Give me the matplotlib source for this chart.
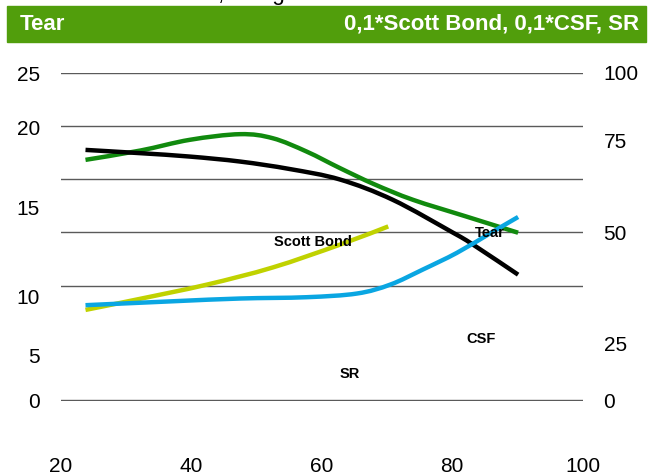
import matplotlib
matplotlib.use("Agg")
import matplotlib.pyplot as plt
from matplotlib.patches import Rectangle, PathPatch
from matplotlib.path import Path

plt.rcParams['font.family'] = ['Liberation Sans', 'DejaVu Sans']

# values (left axis units)
tear_x = [23.8, 32.2, 39.8, 47.5, 55.1, 62.8, 70.9, 80.1, 83.2, 90.1]
tear_y = [19.11, 18.86, 18.60, 18.22, 17.65, 16.85, 15.3, 12.8, 11.88, 9.59]

green_x = [23.8, 32.2, 39.8, 47.5, 52.5, 57.7, 62.8, 68.0, 74.0, 82.0, 90.1]
green_y = [18.35, 19.06, 19.88, 20.31, 20.0, 18.98, 17.72, 16.5, 15.3, 14.05, 12.79]

scott_x = [23.8, 32.2, 42.4, 52.5, 62.8, 70.2]
scott_y = [6.9, 7.75, 8.83, 10.14, 11.88, 13.27]

csf_x = [23.8, 37.2, 47.5, 57.7, 65.4, 70.5, 75.5, 80.7, 85.9, 90.1]
csf_y = [7.26, 7.56, 7.77, 7.87, 8.15, 8.83, 9.98, 11.25, 12.77, 13.99]

x_ticks = [20, 40, 60, 80, 100]
left_labels = ["25", "20", "15", "10", "5", "0"]
right_labels = ["100", "75", "50", "25", "0"]

# layout (where the labels sit on the axes)
left_pos = [24.97, 20.84, 14.72, 7.94, 3.43, -0.05]
right_pos = [100, 79.3, 51.3, 17.6, 0.3]
grid_pos = [25, 20.94, 16.88, 12.82, 8.76, 0]


def smooth_line(ax, xs, ys, color):
    # smoothed line like the spreadsheet one: cubic pieces through the points
    pts = list(zip(xs, ys))
    n = len(pts)
    verts = [pts[0]]
    codes = [Path.MOVETO]
    for i in range(n - 1):
        p0 = pts[i - 1] if i > 0 else pts[i]
        p1 = pts[i]
        p2 = pts[i + 1]
        p3 = pts[i + 2] if i + 2 < n else pts[i + 1]
        c1 = (p1[0] + (p2[0] - p0[0]) / 6, p1[1] + (p2[1] - p0[1]) / 6)
        c2 = (p2[0] - (p3[0] - p1[0]) / 6, p2[1] - (p3[1] - p1[1]) / 6)
        verts += [c1, c2, p2]
        codes += [Path.CURVE4] * 3
    ax.add_patch(PathPatch(Path(verts, codes), fill=False, edgecolor=color,
                           lw=3.2, capstyle='butt', zorder=3))


W, H = 649, 476
fig = plt.figure(figsize=(W / 100, H / 100), dpi=100)
ax = fig.add_axes([60.7 / W, (H - 401) / H, 522 / W, 328.3 / H])

for g in grid_pos:
    ax.axhline(g, color='#5a5a5a', lw=1, zorder=1)

smooth_line(ax, green_x, green_y, '#118a0e')
smooth_line(ax, tear_x, tear_y, 'black')
smooth_line(ax, scott_x, scott_y, '#c0d200')
smooth_line(ax, csf_x, csf_y, '#0aa6e2')

lab = dict(fontsize=10.5, fontweight='bold', ha='center', va='center', zorder=4)
ax.text(58.7, 12.08, "Scott Bond", **lab)
ax.text(85.7, 12.77, "Tear", **lab)
ax.text(84.5, 4.65, "CSF", **lab)
ax.text(64.3, 1.98, "SR", **lab)

ax.set_xlim(20, 100)
ax.set_ylim(0, 25)
ax.set_xticks(x_ticks)
ax.set_xticklabels([str(t) for t in x_ticks])
ax.set_yticks(left_pos)
ax.set_yticklabels(left_labels)
ax.tick_params(axis='x', length=0, pad=40, labelsize=15)
ax.tick_params(axis='y', length=0, pad=15, labelsize=15)
for s in ax.spines.values():
    s.set_visible(False)

ax2 = ax.twinx()
ax2.set_ylim(0, 100)
ax2.set_yticks(right_pos)
ax2.set_yticklabels(right_labels)
ax2.tick_params(axis='y', length=0, pad=15, labelsize=15)
for s in ax2.spines.values():
    s.set_visible(False)

# header bar
fig.patches.append(Rectangle((7.3 / W, 1 - 41.7 / H), (646 - 7.3) / W, 35.7 / H,
                             transform=fig.transFigure, color='#519e0c', zorder=0))
fig.text(20 / W, 1 - 24 / H, "Tear", color='white', fontsize=16, fontweight='bold',
         ha='left', va='center')
fig.text(639 / W, 1 - 24 / H, "0,1*Scott Bond, 0,1*CSF, SR", color='white', fontsize=16,
         fontweight='bold', ha='right', va='center')
# title cut off at the top edge, as in the reference
fig.text(218 / W, 1.0, ", along", fontsize=16, ha='left', va='baseline')

fig.savefig("out.png", dpi=100)
